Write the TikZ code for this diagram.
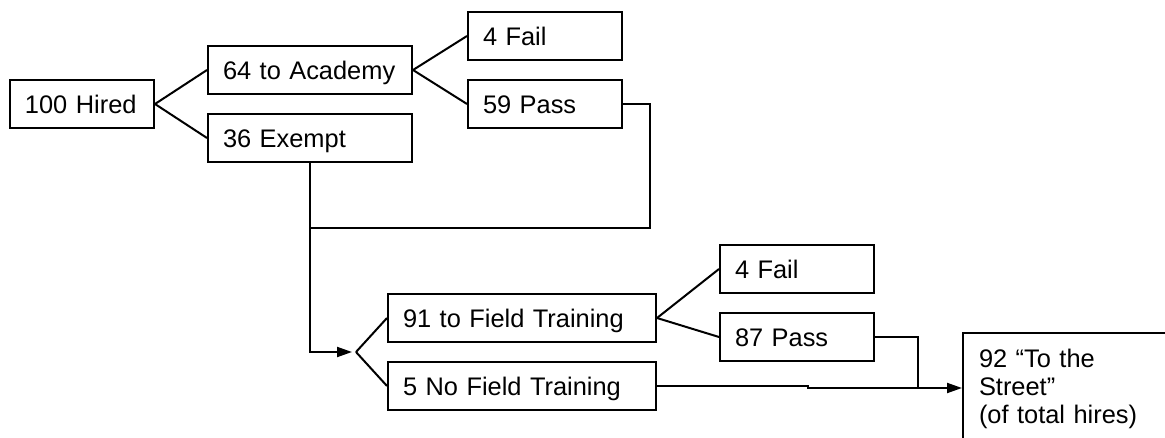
\documentclass[tikz,border=0pt]{standalone}
\usepackage{fontspec}
\setmainfont{Liberation Sans}
\usetikzlibrary{arrows.meta}

\begin{document}
\begin{tikzpicture} [x=0.5pt, y=-0.5pt, line width=1pt,
    font=\fontsize{12.7}{13.8}\selectfont,
    >={Triangle[length=7.5pt,width=5pt]},
    box/.style={draw, minimum height=24pt, text width=#1, align=left,
        inner xsep=7.5pt, inner ysep=1pt, text height=9.2pt, text depth=0pt},
    endbox/.style={draw, anchor=north west, text width=90pt, align=left,
        inner xsep=8pt, inner ysep=8.25pt}]
    \useasboundingbox (0,0) rectangle (1165,438);
    \clip (0,0) rectangle (1165,438);

    \node[box=57pt]  (hired)   at (82,104)  {100 Hired};
    \node[box=87pt]  (academy) at (310,70)  {64 to Academy};
    \node[box=87pt]  (exempt)  at (310,138) {36 Exempt};
    \node[box=62pt]  (failA)   at (545,36)  {4 Fail};
    \node[box=62pt]  (passA)   at (545,104) {59 Pass};
    \node[box=119pt] (field)   at (522,318) {91 to Field Training};
    \node[box=119pt] (nofield) at (522,386) {5 No Field Training};
    \node[box=62pt]  (failF)   at (797,269) {4 Fail};
    \node[box=62pt]  (passF)   at (797,337) {87 Pass};
    \node[endbox]    (street)  at (962,332) {92 “To the\\Street”\\(of total hires)};

    \coordinate (bend)  at (650,228);
    \coordinate (join)  at (310,228);
    \coordinate (split) at (356,352);
    \coordinate (jog)   at (808,388);
    \coordinate (merge) at (918,388);

    \draw (hired.east) -- (academy.west);
    \draw (hired.east) -- (exempt.west);
    \draw (academy.east) -- (failA.west);
    \draw (academy.east) -- (passA.west);
    \draw (passA.east) -| (bend) -- (join);
    \draw[->, shorten >=2pt] (exempt.south) |- (split);
    \draw (split) -- (field.west);
    \draw (split) -- (nofield.west);
    \draw (field.east) -- (failF.west);
    \draw (field.east) -- (passF.west);
    \draw (passF.east) -| (merge);
    \draw[->] (nofield.east) -- (jog |- nofield.east) -- (jog) -- (merge -| street.west);
\end{tikzpicture}
\end{document}
